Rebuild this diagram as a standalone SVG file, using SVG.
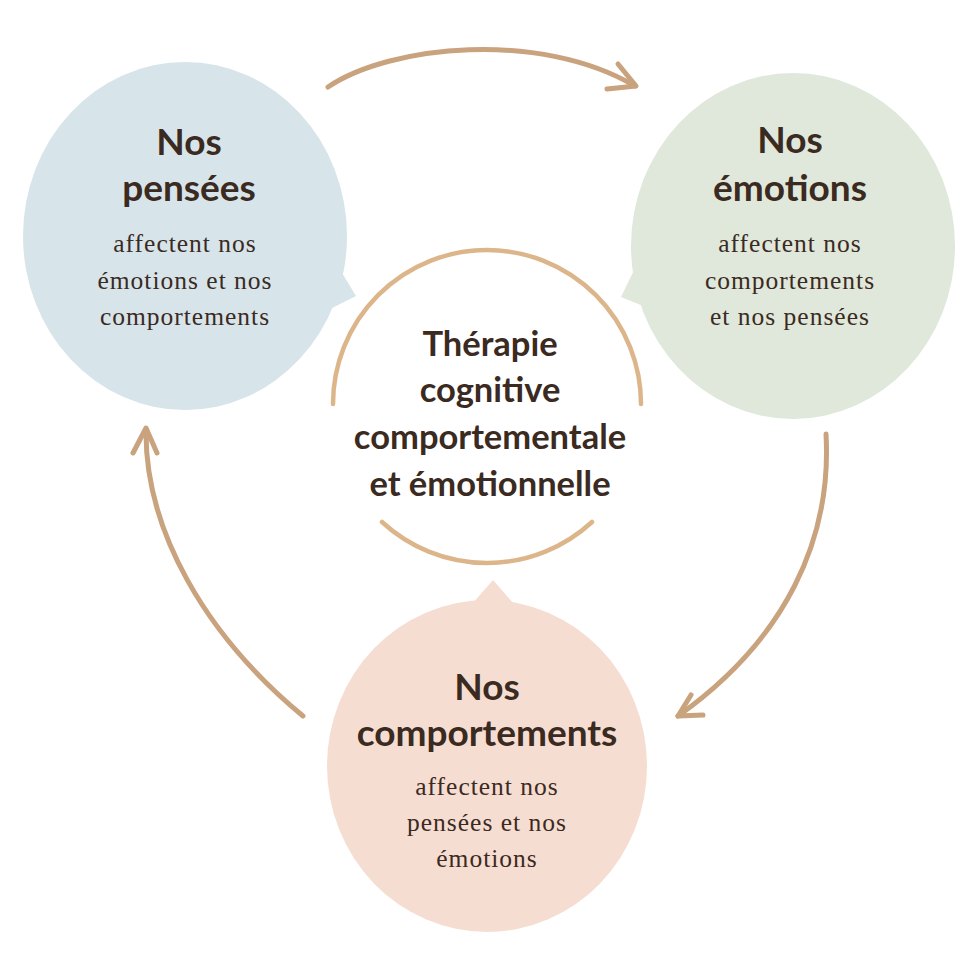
<svg xmlns="http://www.w3.org/2000/svg" width="980" height="980" viewBox="0 0 980 980">
<style>
.h{font-family:Lato,"Open Sans","Liberation Sans",sans-serif;font-weight:700;font-size:37px;fill:#3b2a1f;text-anchor:middle}
.c{font-family:Lato,"Open Sans","Liberation Sans",sans-serif;font-weight:700;font-size:34.5px;fill:#3b2a1f;text-anchor:middle}
.b{font-family:"Liberation Serif","DejaVu Serif",serif;font-size:25.5px;fill:#3b2a1f;text-anchor:middle;letter-spacing:1px}
.arr{fill:none;stroke:#c9a27e;stroke-width:5;stroke-linecap:round;stroke-linejoin:round}
.ring{fill:none;stroke:#dcb68a;stroke-width:4.5;stroke-linecap:round}
</style>
<rect width="980" height="980" fill="#ffffff"/>
<g id="pensees">
<ellipse cx="185" cy="236" rx="162" ry="174" fill="#d7e5ea"/>
<polygon points="333,258 356,296 324,312" fill="#d7e5ea"/>
<text class="h" x="189" y="155">Nos</text>
<text class="h" x="189" y="201">pensées</text>
<text class="b" x="185" y="252">affectent nos</text>
<text class="b" x="185" y="289">émotions et nos</text>
<text class="b" x="185" y="325">comportements</text>
</g>
<g id="emotions">
<ellipse cx="793" cy="246" rx="162" ry="173" fill="#dfe8da"/>
<polygon points="638,262 621,297 653,310" fill="#dfe8da"/>
<text class="h" x="790" y="153">Nos</text>
<text class="h" x="790" y="201">émotions</text>
<text class="b" x="790" y="252">affectent nos</text>
<text class="b" x="790" y="289">comportements</text>
<text class="b" x="790" y="325">et nos pensées</text>
</g>
<g id="comportements">
<ellipse cx="487" cy="766" rx="160" ry="166" fill="#f6ddd2"/>
<polygon points="472,604 493,580 514,604" fill="#f6ddd2"/>
<text class="h" x="487" y="700">Nos</text>
<text class="h" x="487" y="746">comportements</text>
<text class="b" x="487" y="795">affectent nos</text>
<text class="b" x="487" y="831">pensées et nos</text>
<text class="b" x="487" y="867">émotions</text>
</g>
<g id="therapie">
<path class="ring" d="M333,404 A154,154 0 1 1 641,404"/>
<path class="ring" d="M382,522 A155,155 0 0 0 592,522"/>
<text class="c" x="490" y="356">Thérapie</text>
<text class="c" x="490" y="402">cognitive</text>
<text class="c" x="490" y="449">comportementale</text>
<text class="c" x="490" y="496">et émotionnelle</text>
</g>
<g id="connectors">
<path class="arr" d="M328,87 C390,45 540,30 635,86"/>
<path class="arr" d="M618,64 L636,86 L607,89"/>
<path class="arr" d="M826,434 C832,540 785,640 678,716"/>
<path class="arr" d="M691,695 L678,716 L703,715"/>
<path class="arr" d="M303,716 C205,635 145,530 146,430"/>
<path class="arr" d="M133,453 L146,428 L157,453"/>
</g>
</svg>
